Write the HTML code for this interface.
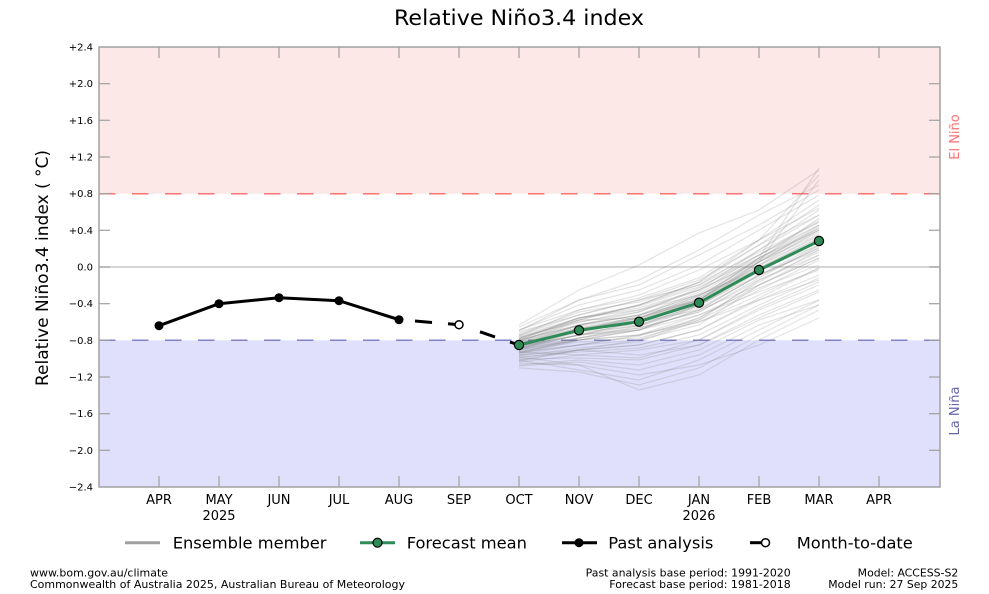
<!DOCTYPE html>
<html>
<head>
<meta charset="utf-8">
<style>
html,body{margin:0;padding:0;background:#fff;}
svg{display:block;font-family:"DejaVu Sans","Liberation Sans",sans-serif;}
</style>
</head>
<body>
<svg width="989" height="594" viewBox="0 0 989 594" xmlns="http://www.w3.org/2000/svg">
<!-- shaded regions -->
<rect x="99" y="47" width="841" height="146.7" fill="#fde8e8"/>
<rect x="99" y="340.3" width="841" height="146.7" fill="#e0e0fc"/>
<!-- zero line -->
<line x1="99" y1="267" x2="940" y2="267" stroke="#c8c8c8" stroke-width="1.5"/>
<!-- threshold dashed lines -->
<line x1="99" y1="193.7" x2="940" y2="193.7" stroke="#ff7272" stroke-width="1.5" stroke-dasharray="16.5 16.5"/>
<line x1="99" y1="340.3" x2="940" y2="340.3" stroke="#8282c8" stroke-width="1.5" stroke-dasharray="16.5 16.5"/>

<!-- ensemble members -->
<g fill="none" stroke="#808080" stroke-opacity="0.22" stroke-width="1.2">
<polyline points="519,340 579,325 639,315 699,300 759,262 819,228"/>
<polyline points="519,348 579,335 639,330 699,310 759,275 819,250"/>
<polyline points="519,352 579,340 639,335 699,320 759,290 819,260"/>
<polyline points="519,338 579,320 639,305 699,285 759,250 819,210"/>
<polyline points="519,360 579,350 639,345 699,330 759,300 819,275"/>
<polyline points="519,345 579,330 639,318 699,298 759,265 819,235"/>
<polyline points="519,330 579,310 639,295 699,270 759,240 819,200"/>
<polyline points="519,355 579,345 639,340 699,325 759,285 819,255"/>
<polyline points="519,342 579,328 639,325 699,305 759,270 819,245"/>
<polyline points="519,365 579,360 639,365 699,350 759,320 819,300"/>
<polyline points="519,335 579,315 639,300 699,280 759,245 819,215"/>
<polyline points="519,350 579,338 639,328 699,312 759,280 819,252"/>
<polyline points="519,346 579,335 639,322 699,300 759,258 819,225"/>
<polyline points="519,358 579,350 639,355 699,345 759,315 819,290"/>
<polyline points="519,340 579,318 639,310 699,295 759,270 819,240"/>
<polyline points="519,325 579,290 639,265 699,233 759,210 819,170"/>
<polyline points="519,360 579,370 639,380 699,360 759,330 819,300"/>
<polyline points="519,348 579,332 639,320 699,305 759,275 819,248"/>
<polyline points="519,337 579,322 639,312 699,290 759,260 819,230"/>
<polyline points="519,353 579,345 639,335 699,315 759,288 819,265"/>
<polyline points="519,343 579,330 639,320 699,300 759,262 819,180"/>
<polyline points="519,363 579,365 639,390 699,375 759,340 819,310"/>
<polyline points="519,332 579,315 639,300 699,285 759,255 819,220"/>
<polyline points="519,349 579,340 639,330 699,315 759,292 819,270"/>
<polyline points="519,356 579,348 639,342 699,320 759,280 819,255"/>
<polyline points="519,345 579,325 639,315 699,295 759,268 819,238"/>
<polyline points="519,339 579,320 639,318 699,300 759,265 819,230"/>
<polyline points="519,351 579,342 639,338 699,322 759,295 819,268"/>
<polyline points="519,344 579,330 639,322 699,310 759,285 819,258"/>
<polyline points="519,330 579,305 639,290 699,265 759,230 819,195"/>
<polyline points="519,362 579,355 639,350 699,340 759,310 819,285"/>
<polyline points="519,347 579,328 639,320 699,298 759,258 819,168"/>
<polyline points="519,341 579,322 639,310 699,290 759,250 819,215"/>
<polyline points="519,357 579,352 639,348 699,335 759,305 819,278"/>
<polyline points="519,336 579,318 639,305 699,282 759,245 819,205"/>
<polyline points="519,354 579,340 639,330 699,310 759,275 819,245"/>
<polyline points="519,346 579,335 639,325 699,305 759,270 819,242"/>
<polyline points="519,350 579,330 639,318 699,300 759,266 819,236"/>
<polyline points="519,334 579,312 639,302 699,283 759,252 819,222"/>
<polyline points="519,359 579,358 639,360 699,345 759,318 819,292"/>
<polyline points="519,343 579,325 639,315 699,292 759,255 819,222"/>
<polyline points="519,352 579,345 639,336 699,318 759,282 819,250"/>
<polyline points="519,338 579,318 639,308 699,290 759,262 819,232"/>
<polyline points="519,366 579,362 639,370 699,355 759,325 819,305"/>
<polyline points="519,348 579,338 639,326 699,306 759,272 819,240"/>
<polyline points="519,331 579,300 639,285 699,255 759,225 819,190"/>
<polyline points="519,355 579,350 639,345 699,330 759,298 819,268"/>
<polyline points="519,344 579,328 639,318 699,296 759,262 819,234"/>
<polyline points="519,340 579,325 639,312 699,288 759,255 819,225"/>
<polyline points="519,349 579,335 639,328 699,312 759,278 819,246"/>
<polyline points="519,336 579,310 639,298 699,278 759,240 819,208"/>
<polyline points="519,361 579,350 639,340 699,318 759,285 819,258"/>
<polyline points="519,345 579,332 639,326 699,308 759,276 819,248"/>
<polyline points="519,353 579,338 639,330 699,305 759,262 819,226"/>
<polyline points="519,342 579,320 639,305 699,282 759,240 819,175"/>
<polyline points="519,357 579,365 639,375 699,365 759,345 819,318"/>
<polyline points="519,347 579,335 639,322 699,300 759,268 819,238"/>
<polyline points="519,339 579,318 639,306 699,287 759,258 819,228"/>
<polyline points="519,350 579,340 639,335 699,322 759,300 819,280"/>
<polyline points="519,344 579,330 639,316 699,294 759,258 819,230"/>
<polyline points="519,368 579,372 639,385 699,368 759,335 819,305"/>
<polyline points="519,327 579,300 639,280 699,250 759,215 819,185"/>
<polyline points="519,352 579,355 639,358 699,340 759,308 819,282"/>
<polyline points="519,341 579,326 639,318 699,296 759,260 819,218"/>
</g>

<!-- past analysis -->
<polyline points="159,325.7 219,303.7 279,297.7 339,300.7 399,319.7" fill="none" stroke="#000" stroke-width="3" stroke-linejoin="round"/>
<g fill="#000">
<circle cx="159" cy="325.7" r="4.5"/>
<circle cx="219" cy="303.7" r="4.5"/>
<circle cx="279" cy="297.7" r="4.5"/>
<circle cx="339" cy="300.7" r="4.5"/>
<circle cx="399" cy="319.7" r="4.5"/>
</g>
<!-- dashed to month-to-date and forecast -->
<g stroke="#000" stroke-width="3">
<line x1="415" y1="321" x2="432" y2="322.5"/>
<line x1="448" y1="323.8" x2="456" y2="324.5"/>
<line x1="480" y1="331.8" x2="495" y2="336.9"/>
<line x1="510" y1="342" x2="519" y2="345"/>
</g>
<circle cx="459" cy="324.7" r="4" fill="#fff" stroke="#000" stroke-width="1.5"/>

<!-- forecast mean -->
<polyline points="519,345 579,330.3 639,321.7 699,302.7 759,270 819,241" fill="none" stroke="#2e8b57" stroke-width="3" stroke-linejoin="round"/>
<g fill="#2e8b57" stroke="#000" stroke-width="1.2">
<circle cx="519" cy="345" r="4.6"/>
<circle cx="579" cy="330.3" r="4.6"/>
<circle cx="639" cy="321.7" r="4.6"/>
<circle cx="699" cy="302.7" r="4.6"/>
<circle cx="759" cy="270" r="4.6"/>
<circle cx="819" cy="241" r="4.6"/>
</g>

<!-- axes frame -->
<rect x="99" y="47" width="841" height="440" fill="none" stroke="#a0a0a0" stroke-width="1.5"/>
<!-- y ticks -->
<g stroke="#a0a0a0" stroke-width="1.2">
<line x1="99" y1="83.7" x2="110" y2="83.7"/><line x1="929" y1="83.7" x2="940" y2="83.7"/>
<line x1="99" y1="120.3" x2="110" y2="120.3"/><line x1="929" y1="120.3" x2="940" y2="120.3"/>
<line x1="99" y1="157" x2="110" y2="157"/><line x1="929" y1="157" x2="940" y2="157"/>
<line x1="99" y1="193.7" x2="110" y2="193.7"/><line x1="929" y1="193.7" x2="940" y2="193.7"/>
<line x1="99" y1="230.3" x2="110" y2="230.3"/><line x1="929" y1="230.3" x2="940" y2="230.3"/>
<line x1="99" y1="267" x2="110" y2="267"/><line x1="929" y1="267" x2="940" y2="267"/>
<line x1="99" y1="303.7" x2="110" y2="303.7"/><line x1="929" y1="303.7" x2="940" y2="303.7"/>
<line x1="99" y1="340.3" x2="110" y2="340.3"/><line x1="929" y1="340.3" x2="940" y2="340.3"/>
<line x1="99" y1="377" x2="110" y2="377"/><line x1="929" y1="377" x2="940" y2="377"/>
<line x1="99" y1="413.7" x2="110" y2="413.7"/><line x1="929" y1="413.7" x2="940" y2="413.7"/>
<line x1="99" y1="450.3" x2="110" y2="450.3"/><line x1="929" y1="450.3" x2="940" y2="450.3"/>
</g>
<!-- x ticks -->
<g stroke="#a0a0a0" stroke-width="1.2">
<line x1="159" y1="47" x2="159" y2="58"/><line x1="159" y1="487" x2="159" y2="476"/>
<line x1="219" y1="47" x2="219" y2="58"/><line x1="219" y1="487" x2="219" y2="476"/>
<line x1="279" y1="47" x2="279" y2="58"/><line x1="279" y1="487" x2="279" y2="476"/>
<line x1="339" y1="47" x2="339" y2="58"/><line x1="339" y1="487" x2="339" y2="476"/>
<line x1="399" y1="47" x2="399" y2="58"/><line x1="399" y1="487" x2="399" y2="476"/>
<line x1="459" y1="47" x2="459" y2="58"/><line x1="459" y1="487" x2="459" y2="476"/>
<line x1="519" y1="47" x2="519" y2="58"/><line x1="519" y1="487" x2="519" y2="476"/>
<line x1="579" y1="47" x2="579" y2="58"/><line x1="579" y1="487" x2="579" y2="476"/>
<line x1="639" y1="47" x2="639" y2="58"/><line x1="639" y1="487" x2="639" y2="476"/>
<line x1="699" y1="47" x2="699" y2="58"/><line x1="699" y1="487" x2="699" y2="476"/>
<line x1="759" y1="47" x2="759" y2="58"/><line x1="759" y1="487" x2="759" y2="476"/>
<line x1="819" y1="47" x2="819" y2="58"/><line x1="819" y1="487" x2="819" y2="476"/>
<line x1="879" y1="47" x2="879" y2="58"/><line x1="879" y1="487" x2="879" y2="476"/>
</g>

<!-- y tick labels -->
<g font-size="10" fill="#000" text-anchor="end">
<text x="93" y="50.5">+2.4</text>
<text x="93" y="87.2">+2.0</text>
<text x="93" y="123.8">+1.6</text>
<text x="93" y="160.5">+1.2</text>
<text x="93" y="197.2">+0.8</text>
<text x="93" y="233.8">+0.4</text>
<text x="93" y="270.5">0.0</text>
<text x="93" y="307.2">−0.4</text>
<text x="93" y="343.8">−0.8</text>
<text x="93" y="380.5">−1.2</text>
<text x="93" y="417.2">−1.6</text>
<text x="93" y="453.8">−2.0</text>
<text x="93" y="490.5">−2.4</text>
</g>

<!-- x tick labels -->
<g font-size="13" fill="#000" text-anchor="middle">
<text x="159" y="504">APR</text>
<text x="219" y="504">MAY</text>
<text x="279" y="504">JUN</text>
<text x="339" y="504">JUL</text>
<text x="399" y="504">AUG</text>
<text x="459" y="504">SEP</text>
<text x="519" y="504">OCT</text>
<text x="579" y="504">NOV</text>
<text x="639" y="504">DEC</text>
<text x="699" y="504">JAN</text>
<text x="759" y="504">FEB</text>
<text x="819" y="504">MAR</text>
<text x="879" y="504">APR</text>
<text x="219" y="520">2025</text>
<text x="699" y="520">2026</text>
</g>

<!-- title -->
<text x="519" y="25" font-size="21.5" text-anchor="middle" fill="#000" textLength="250" lengthAdjust="spacingAndGlyphs">Relative Niño3.4 index</text>

<!-- y axis label -->
<text transform="translate(48,268) rotate(-90)" font-size="16.5" text-anchor="middle" fill="#000" textLength="236" lengthAdjust="spacingAndGlyphs">Relative Niño3.4 index ( °C)</text>

<!-- side labels -->
<text transform="translate(959,137) rotate(-90)" font-size="13" text-anchor="middle" fill="#ff7070">El Niño</text>
<text transform="translate(959,411) rotate(-90)" font-size="13" text-anchor="middle" fill="#6666aa">La Niña</text>

<!-- legend -->
<line x1="125" y1="542.7" x2="160" y2="542.7" stroke="#a0a0a0" stroke-width="3"/>
<text x="172.7" y="548.5" font-size="16.3" fill="#000">Ensemble member</text>

<line x1="360" y1="542.7" x2="395" y2="542.7" stroke="#2e8b57" stroke-width="3"/>
<circle cx="377.5" cy="542.7" r="4.5" fill="#2e8b57" stroke="#000" stroke-width="1.2"/>
<text x="406.7" y="548.5" font-size="16.3" fill="#000">Forecast mean</text>

<line x1="562" y1="542.7" x2="597" y2="542.7" stroke="#000" stroke-width="3"/>
<circle cx="579" cy="542.7" r="4.5" fill="#000"/>
<text x="608.3" y="548.5" font-size="16.3" fill="#000">Past analysis</text>

<line x1="750" y1="542.7" x2="762" y2="542.7" stroke="#000" stroke-width="3"/>
<circle cx="765.5" cy="542.7" r="4" fill="#fff" stroke="#000" stroke-width="1.5"/>
<text x="796.7" y="548.5" font-size="16.3" fill="#000">Month-to-date</text>

<!-- footer -->
<g font-size="10.8" fill="#000">
<text x="30" y="576.5" textLength="138" lengthAdjust="spacingAndGlyphs">www.bom.gov.au/climate</text>
<text x="30" y="588" textLength="375" lengthAdjust="spacingAndGlyphs">Commonwealth of Australia 2025, Australian Bureau of Meteorology</text>
<text x="585.7" y="576.5" textLength="205" lengthAdjust="spacingAndGlyphs">Past analysis base period: 1991-2020</text>
<text x="609.3" y="588" textLength="181.4" lengthAdjust="spacingAndGlyphs">Forecast base period: 1981-2018</text>
<text x="857.7" y="576.5" textLength="100.6" lengthAdjust="spacingAndGlyphs">Model: ACCESS-S2</text>
<text x="828.3" y="588" textLength="130" lengthAdjust="spacingAndGlyphs">Model run: 27 Sep 2025</text>
</g>
</svg>
</body>
</html>
